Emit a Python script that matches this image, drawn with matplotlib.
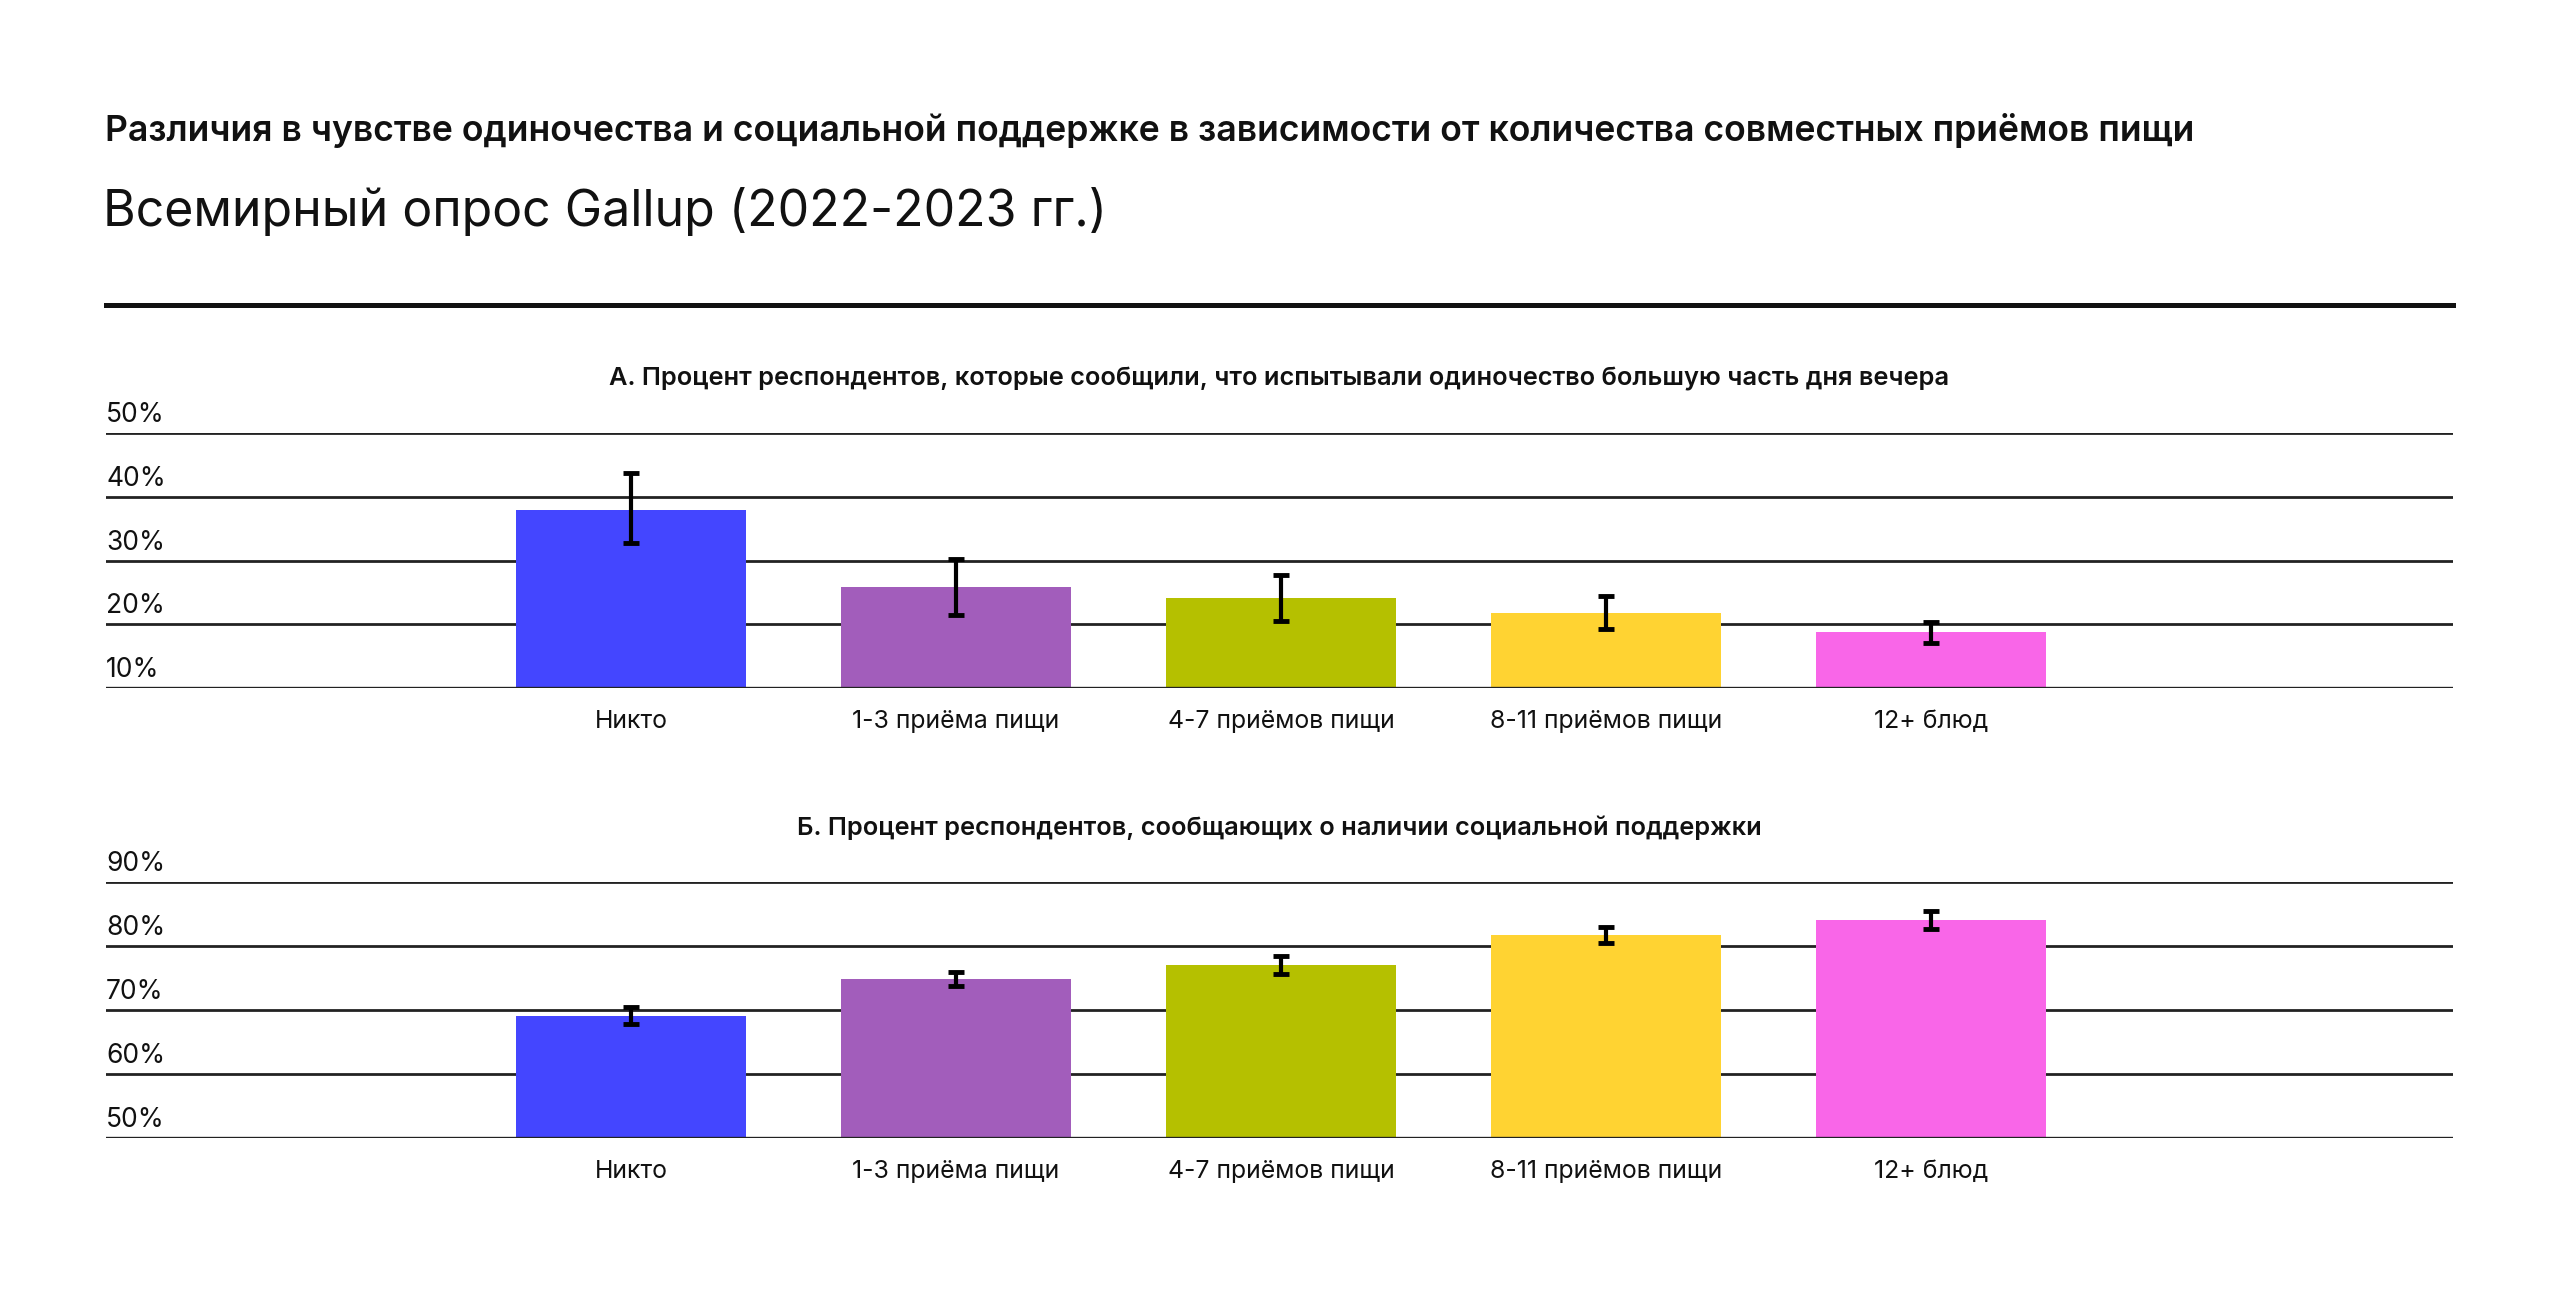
import matplotlib
matplotlib.use("Agg")
import matplotlib.pyplot as plt
from matplotlib.lines import Line2D
from matplotlib.transforms import blended_transform_factory

plt.rcParams['font.family'] = ['Inter', 'DejaVu Sans']

# ---- data ----
categories = ["Никто", "1-3 приёма пищи", "4-7 приёмов пищи", "8-11 приёмов пищи", "12+ блюд"]
colors = ["#4446FF", "#A25DBB", "#B5C000", "#FFD332", "#F966E8"]

lonely_vals = [37.9, 25.9, 24.1, 21.8, 18.8]
lonely_lo = [32.8, 21.5, 20.5, 19.2, 17.0]
lonely_hi = [43.7, 30.3, 27.8, 24.4, 20.4]
lonely_ticks = [10, 20, 30, 40, 50]

support_vals = [69.1, 74.8, 77.1, 81.7, 84.1]
support_lo = [67.8, 73.7, 75.7, 80.4, 82.7]
support_hi = [70.4, 76.0, 78.4, 83.0, 85.5]
support_ticks = [50, 60, 70, 80, 90]

title1 = "Различия в чувстве одиночества и социальной поддержке в зависимости от количества совместных приёмов пищи"
title2 = "Всемирный опрос Gallup (2022-2023 гг.)"
sub_a = "А. Процент респондентов, которые сообщили, что испытывали одиночество большую часть дня вечера"
sub_b = "Б. Процент респондентов, сообщающих о наличии социальной поддержки"

W, H = 2560, 1300
fig = plt.figure(figsize=(W / 100, H / 100), dpi=100)
fig.patch.set_facecolor("white")

x0, x1 = 106, 2453


def make_axes(ytop, ybot):
    return fig.add_axes([x0 / W, 1 - ybot / H, (x1 - x0) / W, (ybot - ytop) / H])


def draw_panel(ax, vals, lo, hi, ticks, subtitle):
    xs = list(range(len(categories)))
    ax.set_xlim(-1.615, 5.606)
    ax.set_ylim(ticks[0], ticks[-1])
    for t in ticks:
        ax.axhline(t, color="#222222", lw=2.0, zorder=1)
    ax.bar(xs, [v - ticks[0] for v in vals], bottom=ticks[0], width=0.708,
           color=colors, zorder=2)
    yerr = [[v - l for v, l in zip(vals, lo)], [h - v for v, h in zip(vals, hi)]]
    ax.errorbar(xs, vals, yerr=yerr, fmt="none", ecolor="black", elinewidth=3.0,
                capsize=6, capthick=3.5, zorder=3)
    ax.axhline(ticks[0], color="#222222", lw=2.4, zorder=4)
    for s in ax.spines.values():
        s.set_visible(False)
    ax.set_yticks(ticks)
    ax.set_yticklabels([])
    ax.tick_params(axis="y", length=0)
    ax.set_xticks(xs)
    ax.set_xticklabels(categories, fontsize=17.9, color="#111111")
    ax.tick_params(axis="x", length=0, pad=16)
    tr = blended_transform_factory(ax.transAxes, ax.transData)
    for t in ticks:
        ax.annotate(f"{t}%", xy=(0, t), xycoords=tr, xytext=(0, 5),
                    textcoords="offset pixels", ha="left", va="bottom",
                    fontsize=19, color="#111111")
    ax.set_title(subtitle, fontsize=18.3, fontweight="semibold", pad=34, color="#111111")


ax1 = make_axes(433, 688)
draw_panel(ax1, lonely_vals, lonely_lo, lonely_hi, lonely_ticks, sub_a)

ax2 = make_axes(882, 1138)
draw_panel(ax2, support_vals, support_lo, support_hi, support_ticks, sub_b)

fig.text(105 / W, 1 - 131 / H, title1, fontsize=25.6, fontweight="semibold",
         ha="left", va="center", color="#111111")
fig.text(103 / W, 1 - 212 / H, title2, fontsize=36, ha="left", va="center",
         color="#111111")
fig.add_artist(Line2D([x0 / W, x1 / W], [1 - 305 / H, 1 - 305 / H],
                      color="#111111", lw=3.6))

fig.savefig("out.png", dpi=100, facecolor="white")
